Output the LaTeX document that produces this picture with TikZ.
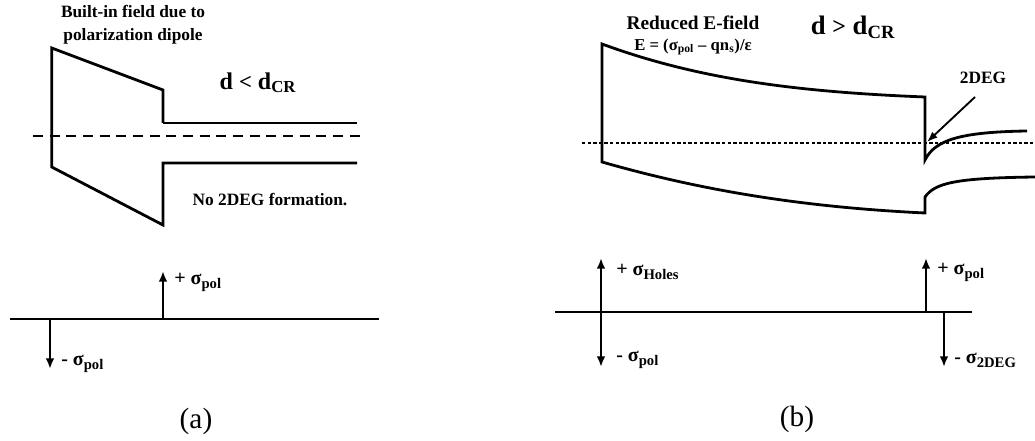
\documentclass[tikz,border=0pt]{standalone}
\usepackage{fontspec}
\setmainfont{Liberation Serif}
\usetikzlibrary{positioning,arrows.meta}
\newcommand{\lowsub}[1]{\raisebox{-0.45ex}{\fontsize{11}{12}\selectfont #1}}

\begin{document}
\begin{tikzpicture}[
  x=0.75pt, y=-0.75pt,
  every node/.style={font=\bfseries\fontsize{13}{15}\selectfont,inner sep=0pt},
  band/.style={line width=2.1pt,line join=miter},
  axis/.style={line width=1.9pt},
  charge/.style={-{Latex[length=8pt,width=6.5pt]},line width=1.7pt},
  chglabel/.style={anchor=west,font=\bfseries\fontsize{15}{17}\selectfont},
  fermi/.style={line width=1.5pt},
  caption/.style={font=\fontsize{22}{26}\selectfont}
]
  \useasboundingbox (0,0) rectangle (1035,441);

  % (a) band diagram, d < dCR
  \draw[band] (163,123) -- (357,123);
  \draw[band] (357,163) -- (163,163) -- (163,225) -- (51.7,167) -- (51.7,48) -- (163,90) -- (163,123);
  \draw[fermi,dash pattern=on 7.5pt off 5pt] (33,136) -- (362,136);
  \node[align=center] (builtin) at (133,25) {Built-in field due to\\[2pt]polarization dipole};
  \node[font=\bfseries\fontsize{18}{20}\selectfont] (dlt) at (258,83) {d {\fontsize{17}{20}\selectfont<} d\textsubscript{CR}};
  \node (no2deg) at (270,200) {No 2DEG formation.};

  % (a) charges
  \coordinate (aleft) at (10,319);
  \coordinate (aright) at (379,319);
  \coordinate (apos0) at (163,319);
  \coordinate (apos) at (163,271);
  \coordinate (aneg0) at (50,319);
  \coordinate (aneg) at (50,369);
  \draw[axis] (aleft) -- (aright);
  \draw[charge] (apos0) -- (apos);
  \draw[charge] (aneg0) -- (aneg);
  \node[chglabel] (apol) at (174,282) {+ σ\lowsub{pol}};
  \node[chglabel] (anpol) at (61,364) {- σ\lowsub{pol}};
  \node[caption] (capa) at (196,421) {(a)};

  % (b) band diagram, d > dCR
  \draw[band] (1027,131) .. controls (960,132) and (935,140) .. (925,160)
    -- (925,97) .. controls (800,92) and (700,80) .. (602,44)
    -- (602,162) .. controls (700,190) and (800,207) .. (925,213)
    -- (925,197) .. controls (935,183) and (955,178) .. (1035,177);
  \draw[fermi,dash pattern=on 2.6pt off 1.6pt] (582,143) -- (1035,143);
  \node[font=\bfseries\fontsize{14.5}{17}\selectfont] (reduced) at (693,23) {Reduced E-field};
  \node[font=\bfseries\fontsize{12.5}{14}\selectfont] (efield) at (693,47) {E = (σ\textsubscript{pol} – qn\textsubscript{s})/ε};
  \node[font=\bfseries\fontsize{20}{22}\selectfont] (dgt) at (853,27) {d {\fontsize{18}{20}\selectfont>} d\textsubscript{CR}};
  \node (twodeg) at (983,78) {2DEG};
  \coordinate (gastail) at (975,97);
  \coordinate (gas) at (927,142);
  \draw[-{Latex[length=8pt,width=6pt]},line width=1.4pt] (gastail) -- (gas);

  % (b) charges
  \coordinate (bleft) at (555,312);
  \coordinate (bright) at (972,312);
  \coordinate (bhole0) at (601,312);
  \coordinate (bhole) at (601,258);
  \coordinate (bneg) at (601,367);
  \coordinate (bpos0) at (926,312);
  \coordinate (bpos) at (926,258);
  \coordinate (bgas0) at (944,312);
  \coordinate (bgas) at (944,367);
  \draw[axis] (bleft) -- (bright);
  \draw[charge] (bhole0) -- (bhole);
  \draw[charge] (bhole0) -- (bneg);
  \draw[charge] (bpos0) -- (bpos);
  \draw[charge] (bgas0) -- (bgas);
  \node[chglabel] (holes) at (616,272) {+ σ\lowsub{Holes}};
  \node[chglabel] (bnpol) at (616,360) {- σ\lowsub{pol}};
  \node[chglabel] (bpol) at (937,272) {+ σ\lowsub{pol}};
  \node[chglabel] (bn2deg) at (954,360) {- σ\lowsub{2DEG}};
  \node[caption] (capb) at (797,419) {(b)};
\end{tikzpicture}
\end{document}
